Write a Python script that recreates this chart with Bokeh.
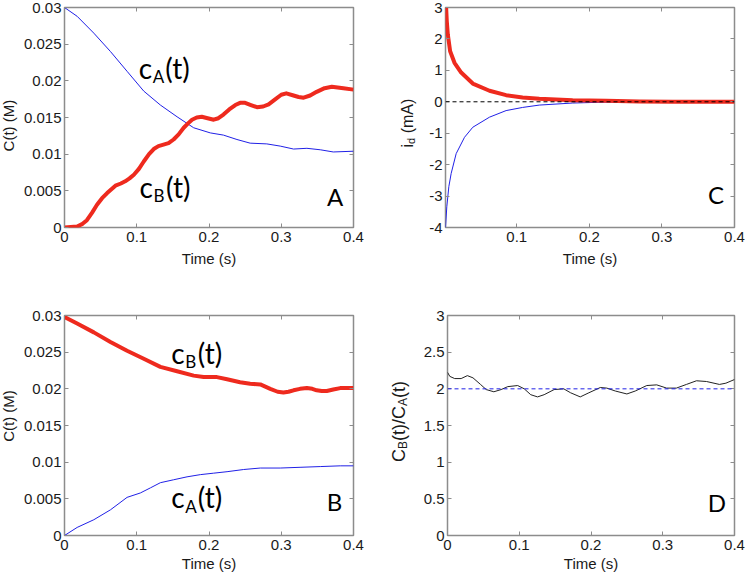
import math
from bokeh.plotting import figure
from bokeh.layouts import column, row
from bokeh.models import Range1d, LinearAxis, Span
from bokeh.core.properties import value
from bokeh.embed import file_html
from bokeh.resources import INLINE

# ---------------- data ----------------
# Panel A (t in s, concentrations in M)
a_t_ca = [0, 0.0175, 0.0406, 0.0636, 0.0866, 0.1097, 0.1327, 0.1558, 0.1788, 0.2018,
          0.22, 0.2387, 0.257, 0.28, 0.2986, 0.317, 0.3355, 0.354, 0.372, 0.4]
a_ca = [0.0300, 0.0288, 0.0265, 0.0240, 0.0213, 0.0186, 0.0167, 0.0151, 0.0136, 0.0129,
        0.0126, 0.0120, 0.0115, 0.0114, 0.0111, 0.0107, 0.0108, 0.0106, 0.0103, 0.0104]
a_t_cb = [0, 0.0175, 0.025, 0.031, 0.038, 0.045, 0.052, 0.059, 0.0705, 0.078, 0.084, 0.09,
          0.096, 0.103, 0.1097, 0.117, 0.1235, 0.13, 0.137, 0.144, 0.151, 0.158, 0.165, 0.171,
          0.1765, 0.183, 0.19, 0.198, 0.2065, 0.213, 0.22, 0.228, 0.2364, 0.243, 0.25, 0.258,
          0.2664, 0.275, 0.2825, 0.292, 0.3, 0.307, 0.317, 0.324, 0.331, 0.34, 0.349, 0.36,
          0.37, 0.378, 0.386, 0.4]
a_cb = [0, 0.00014, 0.0005, 0.0010, 0.0020, 0.0031, 0.0040, 0.0047, 0.0057, 0.0060, 0.0063,
        0.0067, 0.0072, 0.0080, 0.0090, 0.0100, 0.0107, 0.0111, 0.0113, 0.0115, 0.0120, 0.0127,
        0.0136, 0.0142, 0.0147, 0.0150, 0.0151, 0.0149, 0.0147, 0.0149, 0.0154, 0.0161, 0.0167,
        0.0170, 0.0170, 0.0167, 0.0164, 0.0165, 0.0168, 0.0175, 0.0181, 0.0183, 0.0180, 0.0178,
        0.0177, 0.0180, 0.0185, 0.0190, 0.0192, 0.0191, 0.0190, 0.0188]

# Panel B
b_t_cb = [0, 0.0175, 0.0406, 0.0636, 0.0866, 0.1097, 0.1327, 0.1558, 0.1788, 0.1926, 0.211,
          0.225, 0.243, 0.257, 0.271, 0.2848, 0.295, 0.303, 0.31, 0.317, 0.326, 0.3355, 0.343,
          0.349, 0.356, 0.363, 0.372, 0.3816, 0.39, 0.4]
b_cb = [0.0298, 0.0289, 0.0277, 0.0264, 0.0252, 0.0241, 0.0230, 0.0224, 0.0218, 0.0216, 0.0216,
        0.0213, 0.0209, 0.0207, 0.0206, 0.0200, 0.0196, 0.0195, 0.0196, 0.0198, 0.0200, 0.0201,
        0.0200, 0.0198, 0.0197, 0.0197, 0.0199, 0.0201, 0.0201, 0.0201]
b_t_ca = [0, 0.0175, 0.0406, 0.0636, 0.0866, 0.105, 0.119, 0.1327, 0.151, 0.1696, 0.188,
          0.2065, 0.225, 0.248, 0.271, 0.2986, 0.326, 0.354, 0.3816, 0.4]
b_ca = [0, 0.0011, 0.00215, 0.0035, 0.0052, 0.0058, 0.0065, 0.0072, 0.0076, 0.0080, 0.0083,
        0.0085, 0.0087, 0.0090, 0.0092, 0.0092, 0.0093, 0.0094, 0.0095, 0.0095]

# Panel C (current, mA)
c_t_red = [0.0018, 0.0027, 0.0036, 0.005, 0.0082, 0.0142, 0.0234, 0.0394, 0.0624, 0.0853,
           0.108, 0.131, 0.177, 0.223, 0.269, 0.315, 0.4]
c_red = [3.0, 2.98, 2.56, 2.14, 1.61, 1.24, 0.93, 0.58, 0.35, 0.21,
         0.137, 0.095, 0.05, 0.03, 0.01, 0.003, 0.0]
c_t_blue = [0.0018, 0.0036, 0.0064, 0.0096, 0.0165, 0.028, 0.0394, 0.0624, 0.0853, 0.108,
            0.131, 0.177, 0.223, 0.269, 0.4]
c_blue = [-4.0, -3.34, -2.7, -2.28, -1.65, -1.13, -0.81, -0.49, -0.28, -0.18,
          -0.105, -0.04, -0.01, 0.0, 0.0]
c_zero_ref = 0.0

# Panel D (ratio cB/cA)
d_t = [0, 0.0032, 0.01, 0.019, 0.0277, 0.0355, 0.046, 0.054, 0.0646, 0.0747, 0.084, 0.0978,
       0.107, 0.116, 0.1255, 0.1347, 0.1486, 0.162, 0.1716, 0.185, 0.197, 0.213, 0.222, 0.234,
       0.25, 0.2616, 0.2777, 0.2916, 0.3054, 0.319, 0.333, 0.347, 0.361, 0.379, 0.388, 0.4]
d_ratio = [2.226, 2.17, 2.14, 2.14, 2.18, 2.15, 2.06, 1.99, 1.96, 1.99, 2.03, 2.045,
           2.0, 1.92, 1.89, 1.92, 1.99, 2.0, 1.946, 1.89, 1.946, 2.018, 2.01, 1.97,
           1.93, 1.97, 2.045, 2.054, 2.01, 2.01, 2.06, 2.11, 2.10, 2.06, 2.077, 2.127]
d_ratio_ref = 2.0

# ticks
x_ticks = [0, 0.1, 0.2, 0.3, 0.4]
x_tick_labels = ["0", "0.1", "0.2", "0.3", "0.4"]
conc_ticks = [0, 0.005, 0.01, 0.015, 0.02, 0.025, 0.03]
conc_tick_labels = ["0", "0.005", "0.01", "0.015", "0.02", "0.025", "0.03"]
id_ticks = [-4, -3, -2, -1, 0, 1, 2, 3]
id_tick_labels = ["-4", "-3", "-2", "-1", "0", "1", "2", "3"]
ratio_ticks = [0, 0.5, 1, 1.5, 2, 2.5, 3]
ratio_tick_labels = ["0", "0.5", "1", "1.5", "2", "2.5", "3"]

# ---------------- styling ----------------
FRAME = "#8c8c8c"
RED = "#ee2a1e"
BLUE = "#2020e6"
TXT = "#1a1a1a"
AX_FONT = "Liberation Sans"
LAB_FONT = "Lato"


def style_axis(ax, ticks, labels, show, standoff):
    ax.ticker = ticks
    ax.major_label_overrides = dict(zip(ticks, labels))
    ax.axis_line_color = None
    ax.major_tick_in = 4
    ax.major_tick_out = 0
    ax.major_tick_line_color = FRAME
    ax.major_tick_line_width = 1
    ax.minor_tick_line_color = None
    ax.major_label_text_font = AX_FONT
    if show:
        ax.major_label_text_color = TXT
        ax.major_label_text_font_size = "15px"
        ax.major_label_standoff = standoff
    else:
        ax.major_label_text_color = None
        ax.major_label_text_font_size = "1px"
        ax.major_label_standoff = 0


def make_fig(width, height, xr, yr, yticks, ylabels, borders, xlab_standoff):
    l, r, t, b = borders
    p = figure(width=width, height=height, x_range=Range1d(*xr), y_range=Range1d(*yr),
               output_backend="svg", toolbar_location=None, tools="",
               min_border_left=l, min_border_right=r, min_border_top=t, min_border_bottom=b)
    p.xgrid.visible = False
    p.ygrid.visible = False
    p.outline_line_color = FRAME
    p.outline_line_width = 1.5
    p.background_fill_color = "white"
    p.border_fill_color = "white"
    bottom_ax = p.below[0]
    left_ax = p.left[0]
    style_axis(bottom_ax, x_ticks, x_tick_labels, True, 4)
    style_axis(left_ax, yticks, ylabels, True, 3)
    bottom_ax.axis_label = "Time (s)"
    bottom_ax.axis_label_text_font = AX_FONT
    bottom_ax.axis_label_text_font_size = "15px"
    bottom_ax.axis_label_text_font_style = "normal"
    bottom_ax.axis_label_text_color = TXT
    bottom_ax.axis_label_standoff = xlab_standoff
    top = LinearAxis()
    style_axis(top, x_ticks, x_tick_labels, False, 0)
    p.add_layout(top, "above")
    right = LinearAxis()
    style_axis(right, yticks, ylabels, False, 0)
    p.add_layout(right, "right")
    return p


def label_fig(width, height, main, top, bottom):
    # narrow strip left of a panel that carries its rotated y-axis title
    q = figure(width=width, height=height, x_range=Range1d(0, width), y_range=main.y_range,
               output_backend="svg", toolbar_location=None, tools="",
               x_axis_location=None, y_axis_location=None,
               min_border_left=0, min_border_right=0, min_border_top=top, min_border_bottom=bottom)
    q.xgrid.visible = False
    q.ygrid.visible = False
    q.outline_line_color = None
    q.background_fill_color = "white"
    q.border_fill_color = "white"
    return q


def ytitle(q, x, y, text, size, align="left"):
    q.text(x=[x], y=[y], text=[text], angle=math.pi / 2, text_font=value(AX_FONT),
           text_font_size=value(size), text_align=align, text_baseline="alphabetic",
           text_color=TXT)


def lab(p, x, y, text, size, align="left", dx=0):
    p.text(x=[x], y=[y], text=[text], text_font=value(LAB_FONT),
           text_font_size=value(size), text_align=align, text_baseline="alphabetic",
           x_offset=dx, text_color="black")


def curve_label(p, x, y, y_sub, main, sub):
    lab(p, x, y, main, "28px")
    lab(p, x, y_sub, sub, "17px", dx=14)
    lab(p, x, y, "(t)", "28px", dx=26.5)


# ---------------- Panel A ----------------
pA = make_fig(352, 300, (0, 0.4), (0, 0.03), conc_ticks, conc_tick_labels, (44, 19, 7, 73), 5)
pA.line(a_t_ca, a_ca, line_color=BLUE, line_width=1)
pA.line(a_t_cb, a_cb, line_color=RED, line_width=4, line_join="round")
curve_label(pA, 0.1028, 0.02173, 0.02053, "c", "A")
curve_label(pA, 0.1038, 0.00555, 0.00434, "c", "B")
lab(pA, 0.3857, 0.00418, "A", "24px", align="right")
lA = label_fig(20, 300, pA, 7, 73)
ytitle(lA, 7.5, 0.0139, "C(t) (M)", "15px", align="center")

# ---------------- Panel C ----------------
pC = make_fig(325, 300, (0.0018, 0.4), (-4, 3), id_ticks, id_tick_labels, (25, 11, 7, 73), 5)
pC.add_layout(Span(location=c_zero_ref, dimension="width", line_color="black",
                   line_width=1, line_dash="4 3"))
pC.line(c_t_blue, c_blue, line_color=BLUE, line_width=1)
pC.line(c_t_red, c_red, line_color=RED, line_width=4, line_join="round")
lab(pC, 0.3857, -2.965, "C", "24px", align="right")
lC = label_fig(48, 300, pC, 7, 73)
ytitle(lC, 34.5, -1.454, "i", "16px")
ytitle(lC, 38.5, -1.341, "d", "11px")
ytitle(lC, 34.5, -1.005, "(mA)", "16px")

# ---------------- Panel B ----------------
pB = make_fig(352, 276, (0, 0.4), (0, 0.03), conc_ticks, conc_tick_labels, (44, 19, 15, 41), 2)
pB.line(b_t_ca, b_ca, line_color=BLUE, line_width=1)
pB.line(b_t_cb, b_cb, line_color=RED, line_width=4, line_join="round")
curve_label(pB, 0.1477, 0.02491, 0.0237, "c", "B")
curve_label(pB, 0.1477, 0.00519, 0.00398, "c", "A")
lab(pB, 0.3844, 0.0046, "B", "24px", align="right")
lB = label_fig(20, 276, pB, 15, 41)
ytitle(lB, 7.5, 0.0163, "C(t) (M)", "15px", align="center")

# ---------------- Panel D ----------------
pD = make_fig(325, 276, (0, 0.4), (0, 3), ratio_ticks, ratio_tick_labels, (25, 11, 15, 41), 2)
pD.add_layout(Span(location=d_ratio_ref, dimension="width", line_color=BLUE,
                   line_width=1, line_dash="4 3"))
pD.line(d_t, d_ratio, line_color="#222222", line_width=1)
lab(pD, 0.388, 0.447, "D", "24px", align="right")
lD = label_fig(48, 276, pD, 15, 41)
ytitle(lD, 26.0, 1.003, "C", "18px")
ytitle(lD, 30.5, 1.180, "B", "12px")
ytitle(lD, 26.0, 1.289, "(t)/C", "18px")
ytitle(lD, 30.5, 1.766, "A", "12px")
ytitle(lD, 26.0, 1.875, "(t)", "18px")

layout = column(row(lA, pA, lC, pC), row(lB, pB, lD, pD))
open("out.html", "w").write(file_html(layout, INLINE))
